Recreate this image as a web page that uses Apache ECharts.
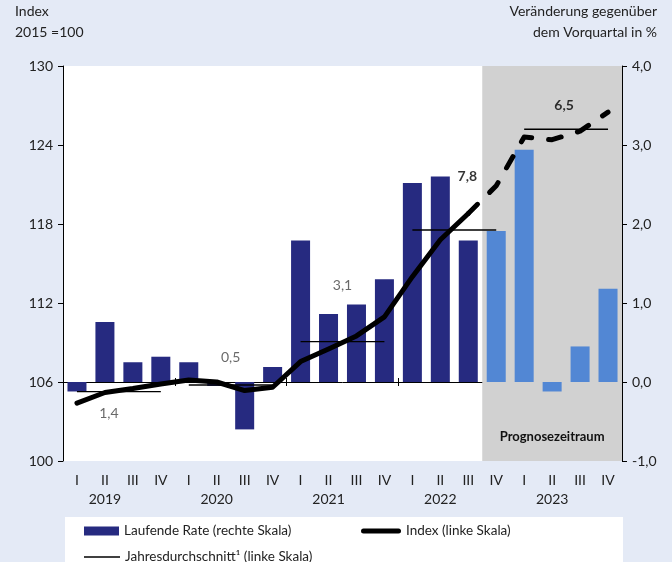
<!DOCTYPE html>
<html>
<head>
<meta charset="utf-8">
<script src="https://cdn.jsdelivr.net/npm/echarts@6/dist/echarts.min.js"></script>
<style>
  html, body { margin: 0; padding: 0; background: #e4eaf6; }
  #chart { width: 672px; height: 562px; }
</style>
</head>
<body>
<div id="chart"></div>
<script>
// Quartale 2019 - 2023
var quarters = ['I', 'II', 'III', 'IV', 'I', 'II', 'III', 'IV', 'I', 'II', 'III', 'IV', 'I', 'II', 'III', 'IV', 'I', 'II', 'III', 'IV']
var years = ['2019', '2020', '2021', '2022', '2023']
// Laufende Rate in % (rechte Skala)
var rate = [-0.12, 0.76, 0.25, 0.32, 0.25, -0.05, -0.60, 0.19, 1.79, 0.86, 0.98, 1.30, 2.52, 2.60, 1.79, 1.91, 2.94, -0.12, 0.45, 1.18]
// Index 2015 = 100 (linke Skala)
var indexValues = [104.4, 105.2, 105.5, 105.85, 106.15, 106.0, 105.35, 105.6, 107.55, 108.5, 109.5, 110.95, 114.0, 116.8, 118.8, 120.9, 124.6, 124.4, 125.05, 126.5]
// Jahresdurchschnitt (linke Skala) und Jahresrate
var yearAvg = [105.27, 105.77, 109.07, 117.55, 125.2]
var yearRate = ['1,4', '0,5', '3,1', '7,8', '6,5']
var forecastStart = 15 // ab IV/2022 Prognose
var leftTicks = [100, 130, 6]
var rightTicks = [-1, 4, 1]

var font = 'Lato'
var dark = '#262a80'
var light = '#5287d4'

var chart = echarts.init(document.getElementById('chart'))

// Label-Versatz der Jahresraten
var rateLabel = [
  { offset: [-10, 22], color: '#444', fontWeight: 'normal' },
  { offset: [0, -28], color: '#444', fontWeight: 'normal' },
  { offset: [0, -56], color: '#444', fontWeight: 'normal' },
  { offset: [13, -53], color: '#000', fontWeight: 'bold' },
  { offset: [-2, -24], color: '#000', fontWeight: 'bold' }
]

var avgSeries = yearAvg.map(function (v, k) {
  return {
    name: 'Jahresdurchschnitt¹ (linke Skala)',
    type: 'line',
    xAxisIndex: 1,
    yAxisIndex: 0,
    symbol: 'none',
    silent: true,
    z: 3,
    color: '#000',
    lineStyle: { color: '#000', width: 1.4 },
    data: [[4 * k + 0.5, v], [4 * k + 3.5, v]]
  }
})

var legendText = { fontFamily: font, fontSize: 13.5, color: '#222' }

chart.setOption({
  backgroundColor: '#e4eaf6',
  animation: false,
  textStyle: { fontFamily: font },
  graphic: [
    { type: 'rect', left: 65, top: 517, shape: { width: 558, height: 50 }, style: { fill: '#fff' }, z: -1 },
    { type: 'text', left: 15, top: 4, style: { text: 'Index', font: '14px ' + font, fill: '#222' } },
    { type: 'text', left: 15, top: 25, style: { text: '2015 =100', font: '14px ' + font, fill: '#222' } },
    { type: 'text', right: 15, top: 4, style: { text: 'Veränderung gegenüber', font: '14px ' + font, fill: '#222' } },
    { type: 'text', right: 15, top: 25, style: { text: 'dem Vorquartal in %', font: '14px ' + font, fill: '#222' } }
  ],
  legend: [
    {
      left: 84, top: 524, padding: 0, itemWidth: 35, itemHeight: 9,
      textStyle: legendText,
      data: [{ name: 'Laufende Rate (rechte Skala)', icon: 'rect', itemStyle: { color: dark } }]
    },
    {
      left: 361, top: 524, padding: 0, itemWidth: 40, itemHeight: 9,
      textStyle: legendText,
      data: [{ name: 'Index (linke Skala)', icon: 'path://M2.5,0 h35 a2.5,2.5 0 0 1 0,5 h-35 a2.5,2.5 0 0 1 0,-5z', itemStyle: { color: '#000' } }]
    },
    {
      left: 84, top: 550, padding: 0, itemWidth: 36, itemHeight: 9,
      textStyle: legendText,
      data: [{ name: 'Jahresdurchschnitt¹ (linke Skala)', icon: 'path://M0,0 h36 v1.4 h-36z', itemStyle: { color: '#000' } }]
    }
  ],
  grid: {
    left: 63,
    right: 50,
    top: 66,
    bottom: 101,
    show: true,
    backgroundColor: '#fff',
    borderWidth: 0
  },
  xAxis: [
    {
      type: 'category',
      data: quarters,
      axisLine: { show: false, onZero: false },
      axisTick: { show: false },
      axisLabel: {
        interval: 0,
        margin: 10,
        fontFamily: font,
        fontSize: 14,
        color: '#222',
        lineHeight: 19,
        formatter: function (v, i) {
          return i % 4 === 1 ? v + '\n' + years[(i - 1) / 4] : v
        }
      }
    },
    {
      type: 'value',
      min: 0,
      max: 20,
      interval: 4,
      position: 'bottom',
      axisLine: { show: true, onZero: true, onZeroAxisIndex: 1, lineStyle: { color: '#000', width: 1 } },
      axisTick: { show: true, inside: false, length: 4, lineStyle: { color: '#000' } },
      axisLabel: { show: false },
      splitLine: { show: false }
    },
    {
      type: 'value',
      min: 0,
      max: 20,
      interval: 4,
      position: 'bottom',
      axisLine: { show: false, onZero: true, onZeroAxisIndex: 1 },
      axisTick: { show: true, inside: true, length: 4, lineStyle: { color: '#000' } },
      axisLabel: { show: false },
      splitLine: { show: false }
    }
  ],
  yAxis: [
    {
      type: 'value',
      min: leftTicks[0],
      max: leftTicks[1],
      interval: leftTicks[2],
      axisLine: { show: true, lineStyle: { color: '#000' } },
      axisTick: { show: true, length: 5, lineStyle: { color: '#000' } },
      splitLine: { show: false },
      axisLabel: { margin: 10, fontFamily: font, fontSize: 14, color: '#222' }
    },
    {
      type: 'value',
      min: rightTicks[0],
      max: rightTicks[1],
      interval: rightTicks[2],
      position: 'right',
      axisLine: { show: true, onZero: false, lineStyle: { color: '#000' } },
      axisTick: { show: true, length: 5, lineStyle: { color: '#000' } },
      splitLine: { show: false },
      axisLabel: {
        margin: 10,
        fontFamily: font,
        fontSize: 14,
        color: '#222',
        formatter: function (v) { return v.toFixed(1).replace('.', ',') }
      }
    }
  ],
  series: [
    {
      name: 'forecast',
      type: 'line',
      xAxisIndex: 1,
      yAxisIndex: 0,
      data: [],
      z: 1,
      markArea: {
        silent: true,
        itemStyle: { color: '#d1d1d1', opacity: 1 },
        label: {
          show: true,
          position: 'insideBottom',
          distance: 18,
          fontFamily: font,
          fontSize: 13,
          fontWeight: 'bold',
          color: '#111'
        },
        data: [[{ name: 'Prognosezeitraum', xAxis: forecastStart }, { xAxis: 20 }]]
      }
    },
    {
      name: 'Laufende Rate (rechte Skala)',
      type: 'bar',
      xAxisIndex: 0,
      yAxisIndex: 1,
      barWidth: '68%',
      z: 2,
      color: dark,
      data: rate.map(function (v, i) {
        return { value: v, itemStyle: { color: i >= forecastStart ? light : dark } }
      })
    }
  ].concat(avgSeries).concat([
    {
      name: 'Index (linke Skala)',
      type: 'line',
      xAxisIndex: 0,
      yAxisIndex: 0,
      symbol: 'none',
      z: 4,
      color: '#000',
      lineStyle: { color: '#000', width: 5, join: 'round', cap: 'round' },
      data: indexValues.map(function (v, i) { return i <= forecastStart - 1 ? v : '-' })
    },
    {
      name: 'Index (linke Skala)',
      type: 'line',
      xAxisIndex: 0,
      yAxisIndex: 0,
      symbol: 'none',
      z: 4,
      color: '#000',
      lineStyle: { color: '#000', width: 5, type: [13, 17], cap: 'round', join: 'round' },
      data: indexValues.map(function (v, i) { return i >= forecastStart - 1 ? v : '-' })
    },
    {
      name: 'rates',
      type: 'scatter',
      xAxisIndex: 1,
      yAxisIndex: 0,
      symbolSize: 0,
      silent: true,
      z: 5,
      data: yearAvg.map(function (v, k) {
        return {
          value: [4 * k + 2, v],
          label: {
            show: true,
            position: 'inside',
            formatter: yearRate[k],
            offset: rateLabel[k].offset,
            color: rateLabel[k].color,
            fontWeight: rateLabel[k].fontWeight,
            fontFamily: font,
            fontSize: 14
          }
        }
      })
    }
  ])
})
</script>
</body>
</html>
